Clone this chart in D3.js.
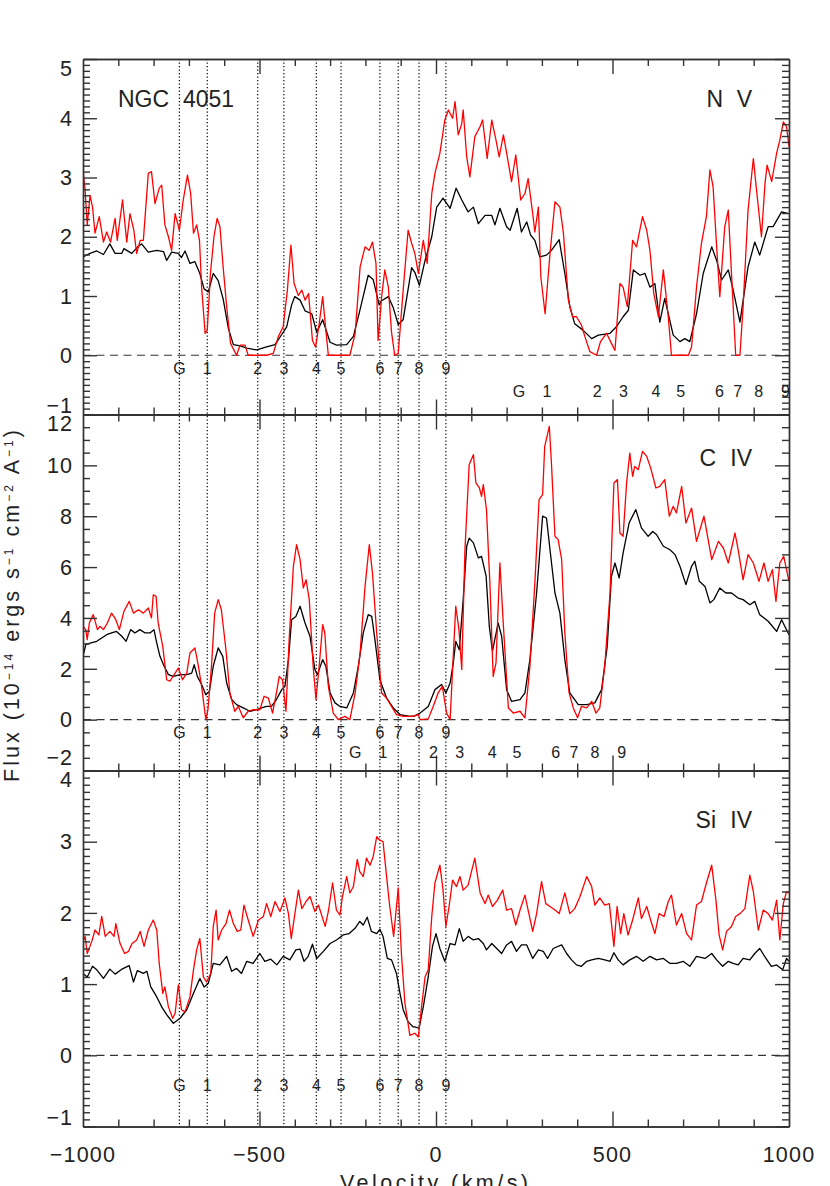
<!DOCTYPE html>
<html><head><meta charset="utf-8">
<script src="https://cdn.jsdelivr.net/npm/d3@7"></script>
<style>
body{margin:0;background:#fff}
svg{display:block}
text{font-family:"Liberation Sans",Arial,Helvetica,sans-serif;fill:#222}
</style>
</head><body>
<svg id="chart" width="830" height="1186"></svg>
<script>
// ---------------- DATA ----------------
const xTickValues = [-1000, -500, 0, 500, 1000];
const xTickLabels = ["\u22121000", "\u2212500", "0", "500", "1000"];
const componentNames = ["G","1","2","3","4","5","6","7","8","9"];
const componentVelocities = [-727,-648,-505,-431,-339,-269,-159,-107,-48,28];
const ionNames = [["N","V"],["C","IV"],["Si","IV"]];
const doubletOffsets = [962, 498, null];
const yDomains = [[-1,5],[-2,12],[-1,4]];
const yMajorSteps = [1,2,1];
const yMinorSteps = [0.1,0.5,0.1];

const nvBlack = [[-1000,1.66],[-980,1.72],[-961,1.76],[-942,1.70],[-924,1.88],[-909,1.72],[-890,1.72],[-884,1.80],[-862,1.72],[-843,1.84],[-834,1.88],[-815,1.74],[-791,1.77],[-772,1.75],[-763,1.60],[-749,1.74],[-730,1.72],[-721,1.65],[-711,1.76],[-697,1.55],[-683,1.58],[-669,1.38],[-657,1.12],[-645,1.07],[-631,1.38],[-617,1.26],[-603,0.95],[-588,0.45],[-574,0.18],[-555,0.16],[-536,0.12],[-508,0.09],[-480,0.14],[-456,0.18],[-437,0.35],[-423,0.48],[-409,0.85],[-400,0.99],[-385,0.93],[-371,0.75],[-352,0.70],[-338,0.39],[-321,0.60],[-300,0.22],[-282,0.17],[-253,0.18],[-234,0.32],[-216,0.75],[-192,1.35],[-178,1.28],[-161,0.85],[-154,0.92],[-135,0.99],[-121,0.80],[-107,0.52],[-93,0.60],[-69,1.48],[-60,1.40],[-47,1.18],[-31,1.60],[-12,2.0],[2,2.5],[20,2.65],[40,2.48],[57,2.82],[73,2.62],[91,2.42],[106,2.5],[120,2.22],[139,2.36],[158,2.36],[167,2.2],[181,2.48],[200,2.17],[210,2.11],[230,2.48],[242,2.08],[257,2.25],[268,2.03],[280,1.94],[294,1.66],[313,1.69],[327,1.77],[349,1.95],[365,1.38],[379,0.82],[393,0.53],[417,0.42],[441,0.28],[460,0.34],[493,0.37],[511,0.48],[530,0.65],[545,0.76],[559,1.44],[578,1.35],[592,1.38],[606,1.15],[620,1.21],[634,0.56],[648,0.96],[658,0.7],[672,0.34],[691,0.23],[705,0.28],[719,0.23],[738,0.7],[757,1.38],[781,1.83],[795,1.6],[809,1.27],[828,1.44],[842,1.1],[861,0.56],[884,1.49],[903,1.91],[917,1.69],[941,2.17],[955,2.17],[979,2.42],[1000,2.39]];
const nvRed = [[-1000,3.13],[-994,2.79],[-988,2.2],[-980,2.7],[-973,2.5],[-966,2.06],[-954,2.34],[-942,1.91],[-933,2.08],[-922,1.91],[-909,2.31],[-903,1.94],[-888,2.62],[-876,1.91],[-867,2.39],[-856,2.11],[-848,1.72],[-838,1.94],[-829,1.94],[-815,3.07],[-806,3.1],[-796,2.56],[-784,2.82],[-777,2.87],[-768,2.2],[-758,2.0],[-749,1.77],[-739,2.39],[-727,2.11],[-716,2.62],[-704,3.04],[-695,2.73],[-687,2.06],[-678,2.2],[-670,1.94],[-664,1.15],[-654,0.37],[-648,0.42],[-639,1.38],[-629,2.0],[-620,2.31],[-612,2.17],[-603,1.49],[-593,0.82],[-582,0.2],[-565,0],[-555,0.17],[-541,0.17],[-532,0],[-480,0],[-461,0.03],[-447,0.31],[-433,0.48],[-421,1.1],[-411,1.86],[-402,1.21],[-390,1.01],[-380,1.1],[-371,0.93],[-361,1.04],[-350,0.25],[-341,0.14],[-331,0.53],[-321,0.99],[-312,0.42],[-305,0],[-244,0],[-229,0.37],[-215,1.49],[-201,1.83],[-189,1.77],[-180,1.91],[-170,1.55],[-164,0.25],[-154,0.99],[-145,1.44],[-135,1.15],[-126,0.39],[-117,0],[-107,0.03],[-93,1.1],[-79,2.11],[-69,1.89],[-60,1.72],[-50,1.38],[-36,1.94],[-25,1.55],[-12,2.73],[-3,3.07],[11,3.41],[25,3.97],[35,4.14],[47,4.0],[54,4.28],[63,3.72],[73,3.91],[77,4.14],[87,3.35],[96,3.01],[110,3.69],[125,3.86],[132,3.97],[145,3.32],[158,3.97],[170,3.63],[179,3.35],[191,3.72],[202,3.35],[214,2.93],[226,3.38],[240,2.62],[252,2.73],[261,2.98],[274,2.39],[280,2.08],[290,2.5],[297,1.32],[309,0.7],[323,1.72],[337,2.59],[351,2.5],[361,2.06],[375,0.93],[387,0.65],[398,0.65],[412,0.51],[422,0.31],[436,0.06],[455,0],[466,0.23],[483,0.37],[497,0.2],[507,0.08],[521,1.21],[530,1.15],[542,0.82],[557,1.94],[568,1.83],[585,2.34],[597,2.11],[606,1.77],[617,1.04],[630,0.65],[644,1.44],[658,0.65],[667,0],[715,0],[724,0.14],[738,1.15],[752,1.89],[766,2.34],[776,3.13],[785,2.84],[795,1.83],[804,0.99],[818,2.17],[828,2.45],[840,1.04],[849,0],[861,0],[870,0.82],[884,2.45],[899,3.32],[908,2.79],[922,2.0],[932,2.9],[938,3.21],[951,2.93],[965,3.41],[974,3.63],[984,3.94],[993,3.86],[1000,3.52]];
const civBlack = [[-1000,2.49],[-992,2.95],[-980,3.01],[-961,3.08],[-947,3.21],[-933,3.34],[-919,3.41],[-905,3.47],[-890,3.28],[-878,3.08],[-865,3.54],[-853,3.41],[-839,3.54],[-824,3.41],[-810,3.41],[-799,3.54],[-791,3.01],[-782,2.49],[-772,2.16],[-758,1.77],[-744,1.70],[-725,1.77],[-706,1.77],[-692,1.83],[-685,2.16],[-676,1.70],[-664,1.38],[-652,0.98],[-642,1.11],[-631,2.1],[-617,2.82],[-604,2.49],[-593,1.44],[-579,0.79],[-565,0.59],[-546,0.46],[-527,0.33],[-508,0.39],[-494,0.46],[-480,0.52],[-466,0.52],[-452,0.79],[-437,1.18],[-428,1.31],[-418,2.36],[-409,3.93],[-397,4.06],[-385,4.46],[-371,3.80],[-357,3.28],[-343,1.97],[-336,1.77],[-321,2.36],[-312,2.10],[-300,1.05],[-286,0.66],[-272,0.52],[-253,0.46],[-234,1.05],[-220,2.10],[-206,3.41],[-192,4.13],[-182,4.06],[-173,3.15],[-159,1.57],[-140,0.85],[-121,0.46],[-102,0.2],[-74,0.13],[-60,0.15],[-45,0.26],[-22,0.52],[-3,1.18],[16,1.38],[28,1.05],[40,1.44],[49,2.23],[56,3.08],[66,2.75],[77,4.72],[87,6.82],[94,7.14],[106,6.95],[120,6.36],[129,6.42],[142,5.64],[151,3.67],[160,2.69],[176,3.80],[186,3.28],[200,1.18],[214,0.72],[238,0.79],[252,1.05],[266,2.36],[285,4.98],[302,8.0],[313,7.93],[323,6.68],[337,4.98],[351,4.19],[365,2.36],[379,1.05],[403,0.59],[427,0.59],[450,0.66],[469,1.18],[485,2.88],[497,5.64],[507,6.16],[519,5.57],[530,6.55],[547,7.73],[566,8.26],[582,7.54],[601,7.21],[614,7.4],[625,7.27],[644,6.82],[663,6.68],[677,6.49],[691,6.03],[708,5.31],[724,6.03],[733,6.23],[746,5.44],[762,5.24],[776,4.59],[787,4.72],[804,5.18],[821,4.98],[837,4.98],[856,4.78],[870,4.72],[889,4.52],[903,4.65],[917,4.13],[941,3.87],[965,3.47],[979,3.93],[1000,3.34]];
const civRed = [[-1000,3.67],[-992,3.54],[-988,3.15],[-982,3.80],[-971,4.13],[-959,3.54],[-952,3.67],[-942,3.54],[-931,3.80],[-919,4.19],[-907,3.93],[-897,3.54],[-884,4.26],[-869,4.65],[-857,4.19],[-843,4.32],[-829,4.19],[-815,4.39],[-806,4.00],[-801,4.91],[-793,4.85],[-787,3.80],[-774,2.88],[-763,1.57],[-754,1.51],[-739,1.83],[-730,2.03],[-718,1.57],[-706,1.83],[-697,2.62],[-683,2.82],[-673,2.10],[-664,1.31],[-652,0],[-646,0.39],[-636,2.1],[-627,4.19],[-617,4.72],[-608,4.32],[-595,2.75],[-584,1.05],[-570,0.33],[-560,0.52],[-546,0.07],[-532,0.33],[-518,0.39],[-499,0.39],[-487,0.92],[-475,0.85],[-463,0.26],[-452,1.05],[-444,1.70],[-435,1.57],[-425,0.33],[-416,3.15],[-404,6.03],[-395,6.88],[-385,6.29],[-376,5.18],[-368,5.50],[-359,4.72],[-348,2.10],[-340,0.79],[-331,2.1],[-321,3.74],[-315,3.41],[-305,1.31],[-291,0.26],[-277,0],[-258,0.13],[-244,0],[-229,1.05],[-215,2.62],[-201,5.24],[-189,6.88],[-180,5.77],[-168,3.41],[-154,1.05],[-140,0.85],[-126,0.52],[-112,0.2],[-93,0.13],[-65,0.13],[-50,0.2],[-45,0],[-22,0.03],[-8,0.52],[6,1.05],[18,1.31],[30,0.26],[40,0],[47,1.97],[56,4.46],[65,3.54],[73,1.97],[82,6.68],[94,10.03],[106,10.42],[113,9.31],[123,9.11],[129,8.78],[134,9.24],[143,8.26],[153,5.24],[162,1.70],[170,2.23],[181,6.16],[191,3.67],[205,0.46],[219,0.26],[238,0.33],[252,0.07],[266,2.10],[280,5.37],[292,8.65],[302,8.85],[308,10.75],[321,11.53],[327,10.09],[337,7.21],[346,7.08],[356,6.29],[365,3.41],[377,1.05],[389,0.46],[401,0.07],[412,0.52],[427,0.46],[441,0.72],[453,0.26],[464,0.46],[478,2.10],[493,4.98],[504,9.31],[514,9.44],[521,7.34],[530,7.21],[540,9.31],[549,10.48],[557,9.57],[563,9.96],[573,9.83],[585,10.55],[597,10.35],[608,9.9],[623,9.11],[634,9.17],[648,9.44],[661,8.0],[672,8.39],[681,8.13],[696,9.17],[708,7.73],[724,8.32],[738,7.01],[759,8.0],[771,7.08],[781,6.29],[800,7.01],[814,6.75],[828,6.16],[847,7.34],[856,6.68],[870,5.50],[884,6.49],[899,6.16],[915,5.44],[929,6.16],[941,5.44],[953,5.90],[963,4.65],[974,6.16],[985,6.42],[1000,5.44]];
const siBlack = [[-1000,1.15],[-988,1.10],[-973,1.25],[-961,1.20],[-942,1.08],[-924,1.21],[-909,1.14],[-890,1.21],[-869,1.26],[-857,1.03],[-846,1.19],[-829,1.15],[-819,1.18],[-808,0.96],[-791,0.82],[-777,0.68],[-763,0.57],[-744,0.45],[-725,0.52],[-706,0.64],[-687,0.87],[-669,1.08],[-657,0.96],[-645,1.01],[-631,1.29],[-612,1.27],[-593,1.39],[-579,1.18],[-565,1.22],[-551,1.15],[-536,1.32],[-518,1.29],[-499,1.43],[-485,1.32],[-468,1.35],[-451,1.27],[-433,1.39],[-414,1.34],[-397,1.48],[-385,1.49],[-374,1.32],[-362,1.39],[-350,1.56],[-338,1.36],[-319,1.46],[-300,1.57],[-282,1.62],[-263,1.69],[-246,1.71],[-230,1.78],[-216,1.88],[-206,1.83],[-195,1.94],[-183,1.74],[-168,1.71],[-159,1.77],[-150,1.67],[-138,1.36],[-126,1.34],[-112,1.15],[-102,0.87],[-93,0.64],[-79,0.47],[-65,0.40],[-60,0.40],[-48,0.38],[-36,0.68],[-22,1.10],[-10,1.53],[0,1.71],[11,1.50],[25,1.32],[40,1.57],[54,1.55],[66,1.78],[77,1.60],[91,1.67],[106,1.62],[120,1.64],[134,1.57],[143,1.48],[158,1.57],[172,1.50],[186,1.43],[200,1.55],[214,1.60],[228,1.46],[242,1.55],[257,1.55],[274,1.36],[290,1.48],[304,1.46],[316,1.36],[332,1.50],[356,1.55],[370,1.43],[384,1.34],[398,1.27],[412,1.25],[427,1.32],[441,1.34],[460,1.36],[478,1.34],[493,1.32],[504,1.44],[516,1.34],[530,1.27],[549,1.34],[568,1.39],[587,1.32],[606,1.39],[625,1.34],[644,1.36],[663,1.29],[681,1.29],[700,1.32],[719,1.25],[738,1.39],[762,1.36],[781,1.43],[795,1.34],[812,1.25],[828,1.32],[842,1.29],[856,1.27],[870,1.36],[889,1.34],[903,1.43],[917,1.50],[931,1.39],[950,1.25],[965,1.27],[982,1.20],[993,1.36],[1000,1.32]];
const siRed = [[-1000,1.60],[-994,1.67],[-988,1.43],[-975,1.60],[-966,1.76],[-955,1.69],[-947,1.95],[-937,1.67],[-924,1.74],[-912,1.67],[-907,1.85],[-895,1.57],[-882,1.43],[-871,1.46],[-861,1.57],[-848,1.62],[-838,1.74],[-827,1.53],[-815,1.76],[-801,1.90],[-791,1.76],[-784,1.29],[-774,0.87],[-768,0.96],[-758,0.68],[-746,0.52],[-739,0.59],[-730,0.99],[-721,0.64],[-711,0.61],[-697,0.82],[-687,1.20],[-678,1.48],[-669,1.64],[-659,1.10],[-650,1.03],[-638,1.15],[-631,1.81],[-623,2.04],[-617,1.62],[-607,1.76],[-595,1.85],[-585,2.04],[-574,1.85],[-563,1.74],[-553,1.76],[-544,2.11],[-532,1.90],[-518,1.67],[-503,1.90],[-489,1.95],[-480,2.13],[-468,1.95],[-456,2.16],[-442,2.02],[-428,2.21],[-418,1.99],[-410,1.64],[-390,2.32],[-380,2.06],[-368,2.16],[-357,2.23],[-343,2.02],[-333,2.11],[-314,1.81],[-305,2.02],[-293,2.42],[-282,2.04],[-272,1.97],[-265,2.23],[-253,2.51],[-244,2.28],[-234,2.37],[-223,2.75],[-216,2.58],[-206,2.51],[-197,2.77],[-187,2.67],[-178,2.79],[-168,3.07],[-159,3.02],[-150,3.00],[-140,2.51],[-131,2.09],[-120,1.67],[-107,2.35],[-98,1.43],[-88,0.73],[-74,0.28],[-60,0.31],[-50,0.26],[-41,0.68],[-31,1.10],[-22,1.20],[-12,1.95],[-3,2.42],[11,2.67],[20,2.32],[28,1.81],[37,2.09],[47,2.46],[58,2.37],[68,2.51],[77,2.32],[91,2.39],[110,2.77],[125,2.28],[139,2.13],[148,2.25],[160,2.09],[174,2.18],[189,2.32],[200,2.04],[214,2.06],[226,1.83],[238,2.04],[252,2.25],[261,2.04],[274,1.74],[285,1.99],[299,2.44],[311,2.13],[323,2.09],[337,2.04],[349,1.99],[365,2.28],[379,1.99],[393,2.06],[408,2.23],[427,2.51],[441,2.37],[450,2.11],[464,2.21],[478,2.11],[491,2.13],[504,1.53],[513,2.09],[523,1.71],[532,1.99],[544,1.69],[557,1.90],[573,2.21],[582,1.92],[597,2.09],[608,1.90],[620,1.71],[632,1.99],[646,1.95],[658,2.16],[667,2.25],[681,1.83],[696,1.99],[710,1.71],[724,1.62],[738,2.11],[752,2.16],[766,2.42],[781,2.67],[793,2.18],[802,1.69],[812,1.48],[823,1.74],[837,1.81],[849,1.95],[861,1.99],[875,2.06],[889,2.53],[899,2.30],[913,1.76],[927,2.04],[941,1.99],[953,1.90],[965,2.18],[974,1.62],[984,2.13],[993,2.30],[1000,2.28]];

const blackSeries = [nvBlack, civBlack, siBlack];
const redSeries = [nvRed, civRed, siRed];

// ---------------- LAYOUT ----------------
const L = 83, R = 789;
const panelTop = [59, 414.5, 770.5];
const panelBottom = [414.5, 770.5, 1126.5];
const row1Offset = [19, 18, 36];
const row2Offset = [42, 38, null];
const bottomLabelDy = ["-0.05em", "-0.25em", "-0.05em"];
const ionFirstEnd = [723, 716, 716];
const ionBaseline = [107, 466, 828];
const AXIS = "#333";

const svg = d3.select("#chart");
const x = d3.scaleLinear().domain([-1000, 1000]).range([L, R]);

function range(a, b, s) { const out = []; const n = Math.round((b - a) / s); for (let i = 0; i <= n; i++) out.push(+(a + i * s).toFixed(6)); return out; }
const xMinor = range(-1000, 1000, 100).filter(v => v % 500 !== 0);
const xMajor = [-500, 0, 500];

// dotted component lines (behind)
svg.append("g").selectAll("line").data(componentVelocities).join("line")
  .attr("x1", d => x(d)).attr("x2", d => x(d))
  .attr("y1", panelTop[0]).attr("y2", panelBottom[2])
  .attr("stroke", "#000").attr("stroke-width", 1.2)
  .attr("stroke-dasharray", "1.3,2.2");

for (let i = 0; i < 3; i++) {
  const y = d3.scaleLinear().domain(yDomains[i]).range([panelBottom[i], panelTop[i]]);
  const g = svg.append("g");
  const clipId = "clip" + i;
  svg.append("clipPath").attr("id", clipId).append("rect")
    .attr("x", L).attr("y", panelTop[i]).attr("width", R - L).attr("height", panelBottom[i] - panelTop[i]);

  // zero dashed line
  g.append("line").attr("x1", L).attr("x2", R).attr("y1", y(0)).attr("y2", y(0))
    .attr("stroke", "#333").attr("stroke-width", 1.2).attr("stroke-dasharray", "8,5.5");

  const line = d3.line().x(d => x(d[0])).y(d => y(d[1]));
  const lg = g.append("g").attr("clip-path", `url(#${clipId})`);
  lg.append("path").datum(blackSeries[i]).attr("d", line)
    .attr("fill", "none").attr("stroke", "#000").attr("stroke-width", 1.3).attr("stroke-linejoin", "round");
  lg.append("path").datum(redSeries[i]).attr("d", line)
    .attr("fill", "none").attr("stroke", "#ff0000").attr("stroke-width", 1.3).attr("stroke-linejoin", "round");

  // axes
  const yMajor = range(yDomains[i][0], yDomains[i][1], yMajorSteps[i]);
  const yMinor = range(yDomains[i][0], yDomains[i][1], yMinorSteps[i]).filter(v => !yMajor.some(m => Math.abs(m - v) < 1e-6));
  const styleAxis = sel => { sel.selectAll("path,line").attr("stroke", AXIS).attr("stroke-width", 1.4); sel.selectAll("text").remove(); };

  [[panelBottom[i], d3.axisBottom], [panelTop[i], d3.axisTop]].forEach(([yy, fn]) => {
    g.append("g").attr("transform", `translate(0,${yy})`)
      .call(fn(x).tickValues(xMajor).tickSizeInner(-15).tickSizeOuter(0).tickFormat("")).call(styleAxis);
    g.append("g").attr("transform", `translate(0,${yy})`)
      .call(fn(x).tickValues(xMinor).tickSizeInner(-7).tickSizeOuter(0).tickFormat("")).call(styleAxis);
  });
  [[L, d3.axisLeft], [R, d3.axisRight]].forEach(([xx, fn]) => {
    g.append("g").attr("transform", `translate(${xx},0)`)
      .call(fn(y).tickValues(yMajor).tickSizeInner(-14).tickSizeOuter(0).tickFormat("")).call(styleAxis);
    g.append("g").attr("transform", `translate(${xx},0)`)
      .call(fn(y).tickValues(yMinor).tickSizeInner(-7).tickSizeOuter(0).tickFormat("")).call(styleAxis);
  });

  // y tick labels
  const nMaj = yMajor.length;
  g.append("g").selectAll("text").data(yMajor).join("text")
    .attr("x", 73).attr("y", d => y(d))
    .attr("dy", (d, k) => k === 0 ? bottomLabelDy[i] : (k === nMaj - 1 ? "0.78em" : "0.36em"))
    .attr("text-anchor", "end").attr("font-size", 21.5).attr("letter-spacing", 1)
    .text(d => d < 0 ? "\u2212" + Math.abs(d) : String(d));

  // component number rows
  const rows = [[0, row1Offset[i]]];
  if (doubletOffsets[i] !== null) rows.push([doubletOffsets[i], row2Offset[i]]);
  rows.forEach(([off, dyOff]) => {
    g.append("g").selectAll("text").data(componentNames.map((n, k) => [n, componentVelocities[k] + off]))
      .join("text").filter(d => d[1] <= 1000)
      .attr("x", d => x(d[1])).attr("y", y(0) + dyOff)
      .attr("text-anchor", "middle").attr("font-size", 16).text(d => d[0]);
  });

  // ion labels
  g.append("text").attr("x", ionFirstEnd[i]).attr("y", ionBaseline[i]).attr("text-anchor", "end")
    .attr("font-size", 23).text(ionNames[i][0]);
  g.append("text").attr("x", 752).attr("y", ionBaseline[i]).attr("text-anchor", "end")
    .attr("font-size", 23).text(ionNames[i][1]);
}

// object name
svg.append("text").attr("x", 118).attr("y", 107).attr("font-size", 23).text("NGC");
svg.append("text").attr("x", 183).attr("y", 107).attr("font-size", 23).text("4051");

// x tick labels
svg.append("g").selectAll("text").data(xTickValues).join("text")
  .attr("x", d => x(d)).attr("y", 1162).attr("text-anchor", "middle")
  .attr("font-size", 21.5).attr("letter-spacing", 1.2)
  .text((d, k) => xTickLabels[k]);

// axis titles
svg.append("text").attr("x", 340).attr("y", 1190).attr("font-size", 21.5)
  .attr("textLength", 188).attr("lengthAdjust", "spacing").text("Velocity (km/s)");

const yt = svg.append("text").attr("transform", "translate(18.5,782) rotate(-90)")
  .attr("font-size", 21.5).attr("textLength", 352).attr("lengthAdjust", "spacing");
const parts = [["Flux (10", false], ["\u221214", true], [" ergs s", false], ["\u22121", true], [" cm", false], ["\u22122", true], [" A", false], ["\u22121", true], [")", false]];
let prevSup = false;
parts.forEach(([t, sup]) => {
  const ts = yt.append("tspan").text(t);
  if (sup) { ts.attr("font-size", 12).attr("dy", -5.5); prevSup = true; }
  else if (prevSup) { ts.attr("dy", 5.5); prevSup = false; }
});
</script>
</body></html>
